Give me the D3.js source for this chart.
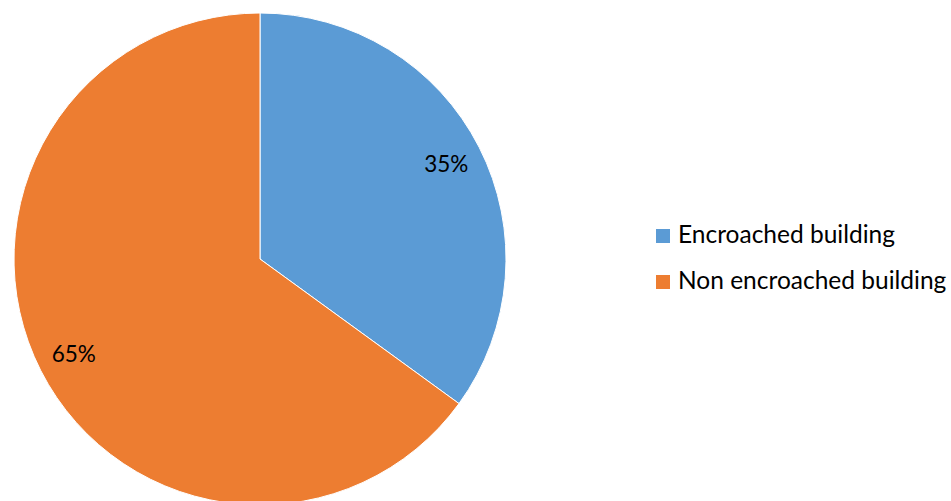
<!DOCTYPE html>
<html>
<head>
<meta charset="utf-8">
<script src="https://cdn.jsdelivr.net/npm/d3@7"></script>
<style>
  html, body { margin: 0; padding: 0; background: #fff; }
  svg { display: block; font-family: Lato, "Open Sans", sans-serif; }
</style>
</head>
<body>
<div id="chart"></div>
<script>
const categories = ["Encroached building", "Non encroached building"]
const shares = [35, 65]
const colors = ["#5B9BD5", "#ED7D31"]

const width = 951, height = 501
const cx = 260, cy = 259, radius = 246

const svg = d3.select("#chart").append("svg")
  .attr("width", width)
  .attr("height", height)

const data = categories.map((c, i) => ({name: c, value: shares[i], color: colors[i]}))

const pie = d3.pie().value(d => d.value).sort(null)
const arcs = pie(data)

const arc = d3.arc().innerRadius(0).outerRadius(radius)
const labelArc = d3.arc().innerRadius(radius * 0.85).outerRadius(radius * 0.85)

const g = svg.append("g").attr("transform", `translate(${cx},${cy})`)

g.selectAll("path")
  .data(arcs)
  .join("path")
    .attr("d", arc)
    .attr("fill", d => d.data.color)
    .attr("stroke", "#fff")
    .attr("stroke-width", 1)

g.selectAll("text")
  .data(arcs)
  .join("text")
    .attr("transform", d => `translate(${labelArc.centroid(d)})`)
    .attr("text-anchor", "middle")
    .attr("dy", "0.35em")
    .attr("font-size", 22.5)
    .attr("fill", "#000")
    .text(d => `${d.data.value}%`)

// legend
const legend = svg.append("g")
  .attr("transform", "translate(656,229)")

const items = legend.selectAll("g")
  .data(data)
  .join("g")
    .attr("transform", (d, i) => `translate(0,${i * 46})`)

items.append("rect")
  .attr("width", 14)
  .attr("height", 14)
  .attr("fill", d => d.color)

items.append("text")
  .attr("x", 22)
  .attr("y", 14)
  .attr("font-size", 24.5)
  .attr("fill", "#000")
  .text(d => d.name)
</script>
</body>
</html>
